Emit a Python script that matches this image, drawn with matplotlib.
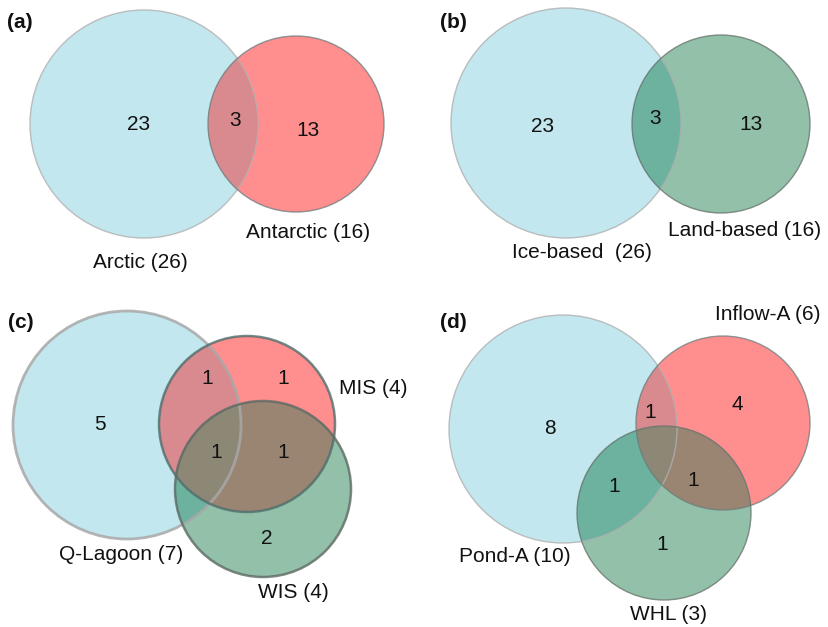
import numpy as np
import matplotlib
matplotlib.use("Agg")
import matplotlib.pyplot as plt
from matplotlib.patches import Circle, Polygon

plt.rcParams['font.family'] = ['Liberation Sans', 'DejaVu Sans']

# ---------------- data ----------------
panel_tags = ["(a)", "(b)", "(c)", "(d)"]

a_sets = ["Arctic (26)", "Antarctic (16)"]
a_counts = [23, 3, 13]            # A only, A&B, B only

b_sets = ["Ice-based  (26)", "Land-based (16)"]
b_counts = [23, 3, 13]

c_sets = ["Q-Lagoon (7)", "MIS (4)", "WIS (4)"]
# regions: A only, A&B, B only, A&B&C, B&C, C only
c_counts = [5, 1, 1, 1, 1, 2]

d_sets = ["Pond-A (10)", "Inflow-A (6)", "WHL (3)"]
# regions: A only, A&B, B only, A&C, B&C, C only
d_counts = [8, 1, 4, 1, 1, 1]

# ---------------- styles / layout ----------------
BLUE, RED, GREEN = "#C3E7EF", "#FF8F8F", "#92C0A8"
BR, BG, RG, BRG = "#D98A8F", "#6CB29E", "#9A8573", "#8D8776"

FS = 15

# layout in pixel coordinates of the figure (x right, y down)
layouts = {
    "a": dict(circles=[(144, 124, 114), (296, 124, 88)],
              colors=[BLUE, RED], pair=BR,
              edges=[("#B0B0B0", 1.0, 0.8), ("#6A7E7C", 1.0, 0.75)],
              count_pos=[(139, 122), (235, 118), (308, 128)],
              label_pos=[(140, 262), (308, 232)]),
    "b": dict(circles=[(566, 123, 115), (721, 124, 89)],
              colors=[BLUE, GREEN], pair=BG,
              edges=[("#B0B0B0", 1.0, 0.8), ("#65716C", 1.0, 0.75)],
              count_pos=[(543, 125), (655, 117), (751, 122)],
              label_pos=[(582, 252), (745, 230)]),
    "c": dict(circles=[(127, 425, 114), (247, 424, 88), (263, 489, 88)],
              colors=[BLUE, RED, GREEN],
              edges=[("#A8A8A8", 2.0, 0.85), ("#4F6E6C", 1.8, 0.8),
                     ("#5D6A64", 1.8, 0.8)],
              count_pos=[(100, 422), (207, 377), (283, 377), (216, 450),
                         (283, 450), (267, 537)],
              label_pos=[(121, 555), (373, 388), (293, 593)]),
    "d": dict(circles=[(563, 429, 114), (723, 423, 87), (664, 513, 87)],
              colors=[BLUE, RED, GREEN],
              edges=[("#B0B0B0", 1.0, 0.8), ("#6A7E7C", 1.0, 0.75),
                     ("#65716C", 1.0, 0.75)],
              count_pos=[(550, 427), (650, 410), (737, 403), (614, 485),
                         (693, 478), (662, 542)],
              label_pos=[(515, 557), (768, 315), (669, 614)]),
}
tag_pos = [(7, 22), (440, 22), (8, 322), (440, 322)]

W, H = 829, 627
fig = plt.figure(figsize=(W / 100, H / 100), dpi=100)
ax = fig.add_axes([0, 0, 1, 1])
ax.set_xlim(0, W)
ax.set_ylim(H, 0)
ax.set_aspect('equal')
ax.axis('off')


def circle_poly(cx, cy, r, n=400):
    t = np.linspace(0, 2 * np.pi, n, endpoint=False)
    return np.column_stack([cx + r * np.cos(t), cy + r * np.sin(t)])


def clip_poly(subject, clip):
    """Sutherland-Hodgman clipping of polygon by convex polygon."""
    def inside(p, a, b):
        return (b[0] - a[0]) * (p[1] - a[1]) - (b[1] - a[1]) * (p[0] - a[0]) >= 0

    def inter(p1, p2, a, b):
        x1, y1 = p1; x2, y2 = p2; x3, y3 = a; x4, y4 = b
        den = (x1 - x2) * (y3 - y4) - (y1 - y2) * (x3 - x4)
        t = ((x1 - x3) * (y3 - y4) - (y1 - y3) * (x3 - x4)) / den
        return (x1 + t * (x2 - x1), y1 + t * (y2 - y1))

    out = [tuple(p) for p in subject]
    n = len(clip)
    for i in range(n):
        a, b = clip[i], clip[(i + 1) % n]
        inp = out
        out = []
        if not inp:
            break
        s = inp[-1]
        for e in inp:
            if inside(e, a, b):
                if not inside(s, a, b):
                    out.append(inter(s, e, a, b))
                out.append(e)
            elif inside(s, a, b):
                out.append(inter(s, e, a, b))
            s = e
    return np.array(out)


def draw_venn(key, sets, counts):
    L = layouts[key]
    circ = L["circles"]
    polys = [circle_poly(*c) for c in circ]
    for (cx, cy, r), col in zip(circ, L["colors"]):
        ax.add_patch(Circle((cx, cy), r, facecolor=col, edgecolor='none', zorder=1))
    if len(circ) == 2:
        ax.add_patch(Polygon(clip_poly(polys[1], polys[0]), closed=True,
                             facecolor=L["pair"], edgecolor='none', zorder=2))
    else:
        ax.add_patch(Polygon(clip_poly(polys[1], polys[0]), closed=True,
                             facecolor=BR, edgecolor='none', zorder=2))
        ax.add_patch(Polygon(clip_poly(polys[2], polys[0]), closed=True,
                             facecolor=BG, edgecolor='none', zorder=2))
        ax.add_patch(Polygon(clip_poly(polys[2], polys[1]), closed=True,
                             facecolor=RG, edgecolor='none', zorder=2))
        tri = clip_poly(clip_poly(polys[2], polys[1]), polys[0])
        ax.add_patch(Polygon(tri, closed=True, facecolor=BRG,
                             edgecolor='none', zorder=3))
    for (cx, cy, r), (ec, lw, al) in zip(circ, L["edges"]):
        ax.add_patch(Circle((cx, cy), r, facecolor='none', edgecolor=ec,
                            linewidth=lw, alpha=al, zorder=4))
    for v, (x, y) in zip(counts, L["count_pos"]):
        ax.text(x, y + 7.5, str(v), fontsize=FS, ha='center', va='baseline',
                color='#111111', zorder=5)
    for s, (x, y) in zip(sets, L["label_pos"]):
        ax.text(x, y + 5.5, s, fontsize=FS, ha='center', va='baseline',
                color='#111111', zorder=5)


draw_venn("a", a_sets, a_counts)
draw_venn("b", b_sets, b_counts)
draw_venn("c", c_sets, c_counts)
draw_venn("d", d_sets, d_counts)

for t, (x, y) in zip(panel_tags, tag_pos):
    ax.text(x, y + 5.5, t, fontsize=FS, fontweight='bold', ha='left',
            va='baseline', color='#111111')

fig.savefig("out.png", dpi=100)
